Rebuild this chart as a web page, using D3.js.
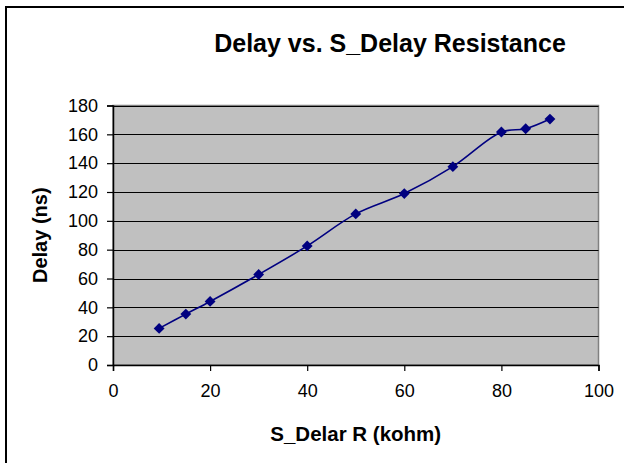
<!DOCTYPE html>
<html>
<head>
<meta charset="utf-8">
<script src="https://cdn.jsdelivr.net/npm/d3@7/dist/d3.min.js"></script>
<style>
  html, body { margin: 0; padding: 0; background: #fff; }
  svg { display: block; font-family: "Liberation Sans", Arial, sans-serif; }
</style>
</head>
<body>
<svg id="chart" width="624" height="463"></svg>
<script>
const resistance = [9.5, 15, 20, 30, 40, 50, 60, 70, 80, 85, 90];
const delay = [25.4, 35.3, 44.1, 62.8, 82.6, 104.8, 118.9, 137.6, 161.6, 163.9, 170.6];
const xTicks = [0, 20, 40, 60, 80, 100];
const yTicks = [0, 20, 40, 60, 80, 100, 120, 140, 160, 180];
const title = "Delay vs. S_Delay Resistance";
const xTitle = "S_Delar R (kohm)";
const yTitle = "Delay (ns)";

const svg = d3.select("#chart");
const plot = { left: 113, top: 105.5, right: 598.5, bottom: 365 };

// chart area border
svg.append("rect").attr("x", 6).attr("y", 7).attr("width", 800).attr("height", 800)
  .attr("fill", "#fff").attr("stroke", "#000").attr("stroke-width", 2);

const x = d3.scaleLinear().domain([0, 100]).range([plot.left, plot.right]);
const y = d3.scaleLinear().domain([0, 180]).range([plot.bottom, plot.top]);

// plot background
svg.append("rect").attr("x", plot.left).attr("y", plot.top)
  .attr("width", plot.right - plot.left).attr("height", plot.bottom - plot.top)
  .attr("fill", "#c0c0c0").attr("stroke", "#808080").attr("stroke-width", 1.5);

// gridlines
svg.append("g").selectAll("line").data(yTicks.filter(d => d > 0)).join("line")
  .attr("x1", plot.left).attr("x2", plot.right)
  .attr("y1", d => Math.round(y(d)) + 0.5).attr("y2", d => Math.round(y(d)) + 0.5)
  .attr("stroke", "#000").attr("stroke-width", 1);

// axes
const yAxis = svg.append("g").attr("transform", `translate(${plot.left},0)`)
  .call(d3.axisLeft(y).tickValues(yTicks).tickSize(6).tickPadding(9).tickFormat(d3.format("d")));
const xAxis = svg.append("g").attr("transform", `translate(0,${plot.bottom})`)
  .call(d3.axisBottom(x).tickValues(xTicks).tickSize(6).tickPadding(13).tickFormat(d3.format("d")));
[yAxis, xAxis].forEach(a => {
  a.select(".domain").attr("stroke", "#000").attr("stroke-width", 1.5);
  a.selectAll(".tick line").attr("stroke", "#000").attr("stroke-width", 1.2);
  a.selectAll(".tick text").attr("fill", "#000").style("font-size", "18px")
    .style("font-family", '"Liberation Sans", Arial, sans-serif');
});

// line
const pts = resistance.map((r, i) => [r, delay[i]]);
const line = d3.line().x(d => x(d[0])).y(d => y(d[1])).curve(d3.curveCatmullRom.alpha(0.5));
svg.append("path").attr("d", line(pts)).attr("fill", "none")
  .attr("stroke", "#000080").attr("stroke-width", 1.6);

// markers (diamonds)
svg.append("g").selectAll("path").data(pts).join("path")
  .attr("d", d3.symbol().type(d3.symbolDiamond2).size(75))
  .attr("transform", d => `translate(${x(d[0])},${y(d[1])})`)
  .attr("fill", "#000080");

// titles
svg.append("text").attr("x", 390).attr("y", 52).attr("text-anchor", "middle")
  .style("font-size", "25px").style("font-weight", "bold").text(title);
svg.append("text").attr("x", (plot.left + plot.right) / 2).attr("y", 441).attr("text-anchor", "middle")
  .style("font-size", "20.5px").style("font-weight", "bold").text(xTitle);
svg.append("text").attr("transform", `translate(47,${(plot.top + plot.bottom) / 2}) rotate(-90)`)
  .attr("text-anchor", "middle").style("font-size", "20px").style("font-weight", "bold").text(yTitle);
</script>
</body>
</html>
